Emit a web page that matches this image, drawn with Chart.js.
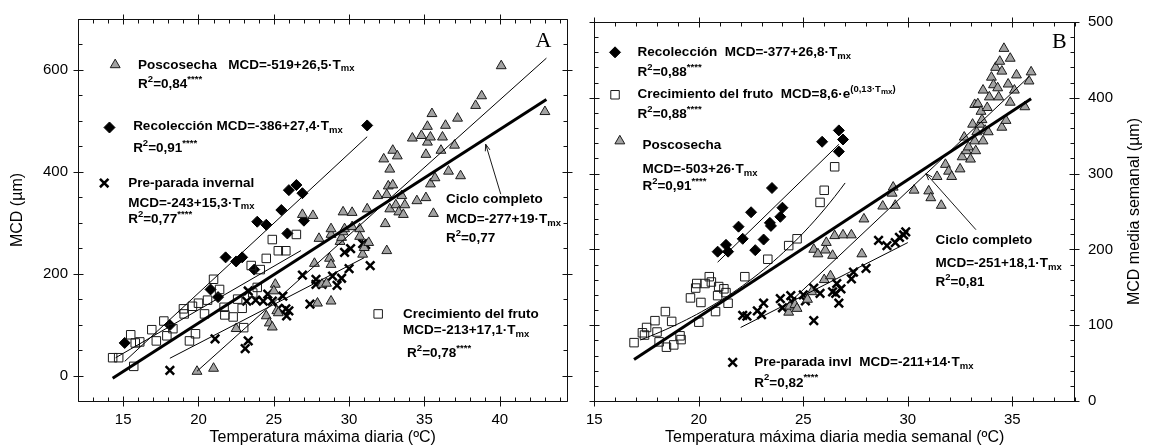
<!DOCTYPE html>
<html>
<head>
<meta charset="utf-8">
<script src="https://cdn.jsdelivr.net/npm/chart.js@4/dist/chart.umd.min.js"></script>
<style>
  body { margin: 0; background: #fff; width: 1156px; height: 447px; position: relative; overflow: hidden; }
  canvas { position: absolute; top: 0; }
  #cA { left: 0; }
  #cB { left: 576px; }
</style>
</head>
<body>
<canvas id="cA" width="576" height="447"></canvas>
<canvas id="cB" width="580" height="447"></canvas>
<script>
const FAM = '"Liberation Sans", Arial, Helvetica, sans-serif';
Chart.defaults.font.family = FAM;
Chart.defaults.color = '#000';

// ---------- panel A: temperatura máxima diaria ----------
const xTicksA = [15, 20, 25, 30, 35, 40];
const yTicksA = [0, 200, 400, 600];

const poscosechaA = [
  [19.9,8],[21.0,14],[22.5,92],[24.5,117],[24.7,103],[24.9,95],[25.2,127],[25.1,179],[25.0,166],[25.3,123],
  [26.9,316],[27.6,314],[27.7,220],[27.9,142],[28.0,269],[28.2,179],[28.5,181],[28.7,230],[28.8,218],[28.8,146],
  [28.8,277],[28.8,288],[29.4,263],[29.5,271],[29.6,282],[29.6,321],[29.7,288],[30.2,292],[30.2,320],[30.7,288],
  [30.7,273],[30.9,238],[31.0,251],[31.3,261],[31.2,327],[31.9,353],[32.3,425],[32.4,298],[32.5,245],[32.5,355],
  [32.6,372],[32.7,327],[32.7,405],[32.9,374],[32.9,442],[33.1,335],[33.2,431],[33.3,321],[33.5,353],[33.6,316],
  [33.7,335],[34.2,466],[34.5,343],[34.8,471],[35.1,434],[35.1,349],[35.2,458],[35.2,489],[35.4,468],[35.4,376],
  [35.5,514],[35.6,318],[35.7,388],[36.1,442],[36.2,468],[36.4,491],[36.6,401],[37.0,452],[37.2,505],[37.4,392],
  [38.4,530],[38.8,549],[40.1,608],[43.0,518]
];
const recoleccionA = [
  [15.1,64],[18.1,99],[20.8,169],[21.3,154],[21.8,232],[22.5,224],[22.9,232],[23.7,208],[23.9,302],[24.5,296],
  [25.5,325],[25.9,279],[26.0,364],[26.5,374],[26.9,358],[27.0,304],[31.2,491]
];
const crecimientoA = [
  [14.3,35],[14.7,35],[15.5,80],[15.7,18],[15.8,64],[16.1,66],[16.9,90],[17.2,68],[17.7,107],[17.9,78],
  [18.3,92],[19.0,131],[19.05,121],[19.4,68],[19.6,136],[19.8,82],[20.0,142],[20.4,121],[20.6,148],[21.0,189],
  [21.4,169],[21.7,134],[21.75,119],[22.3,115],[22.6,150],[22.9,132],[23.0,94],[23.5,216],[23.6,162],[23.9,173],
  [24.1,208],[24.5,230],[24.9,267],[25.3,245],[25.8,245],[26.5,277]
];
const preParadaA = [
  [18.1,10],[21.1,72],[23.1,53],[23.3,68],[23.2,146],[23.3,166],[23.8,148],[24.3,146],[24.6,160],[24.9,146],
  [25.3,132],[25.6,156],[25.8,131],[25.85,117],[26.0,127],[26.9,197],[27.4,140],[27.8,189],[27.8,179],[28.2,179],
  [28.9,195],[29.2,177],[29.5,191],[29.7,242],[30.0,210],[30.1,249],[30.9,259],[31.1,257],[31.4,216]
];

// rectas MCD = a + b·Tmx : poscosecha, recolección, pre-parada, crecimiento, ciclo completo
const fitA_int   = [-519, -386, -243, -213, -277];
const fitA_slope = [26.5, 27.4, 15.3, 17.1, 19];
const fitA_from  = [19.9, 15.1, 18.1, 14.5, 14.3];
const fitA_to    = [43.1, 31.2, 31.0, 26.8, 43.1];

// ---------- panel B: media semanal ----------
const xTicksB = [15, 20, 25, 30, 35];
const yTicksB = [0, 100, 200, 300, 400, 500];

const poscosechaB = [
  [24.3,117],[24.35,125],[24.6,127],[24.7,122],[25.2,134],[25.4,144],[25.5,200],[25.7,194],[26.0,160],[26.05,199],
  [26.1,209],[26.3,165],[26.4,192],[26.5,218],[26.9,219],[27.3,219],[27.8,194],[27.9,240],[28.8,257],[29.25,274],
  [29.3,282],[29.4,258],[30.3,278],[31.0,277],[31.1,268],[31.4,296],[31.6,258],[31.8,312],[31.95,303],[32.1,296],
  [32.5,306],[32.6,322],[32.7,348],[32.8,330],[32.9,335],[33.0,319],[33.1,365],[33.2,343],[33.2,391],[33.25,330],
  [33.3,355],[33.35,392],[33.45,365],[33.5,382],[33.55,371],[33.6,343],[33.6,410],[33.7,357],[33.8,387],[33.85,355],
  [33.9,401],[34.0,427],[34.1,417],[34.2,440],[34.3,413],[34.35,401],[34.4,448],[34.5,435],[34.5,361],[34.6,465],
  [34.7,370],[34.8,418],[34.9,452],[34.9,394],[35.1,410],[35.2,430],[35.6,388],[35.8,422],[35.9,434]
];
const recoleccionB = [
  [20.9,197],[21.3,206],[21.4,197],[21.9,230],[22.1,214],[22.5,249],[22.7,199],[23.1,213],[23.4,235],[23.45,231],
  [23.5,281],[23.9,243],[24.0,255],[25.9,342],[26.7,329],[26.7,357],[26.9,345]
];
const crecimientoB = [
  [16.9,77],[17.3,90],[17.4,87],[17.5,97],[17.9,106],[18.0,91],[18.1,78],[18.4,118],[18.45,71],[18.7,105],
  [18.8,74],[19.1,86],[19.15,81],[19.6,136],[19.85,149],[19.9,155],[20.0,104],[20.1,130],[20.3,155],[20.5,164],
  [20.6,157],[20.8,118],[20.9,139],[20.95,151],[21.2,148],[21.3,143],[21.4,129],[22.2,164],[23.3,187],[24.3,205],
  [24.7,214],[25.8,262],[26.0,278],[26.5,309]
];
const preParadaB = [
  [22.1,113],[22.3,112],[22.8,119],[23.0,114],[23.1,129],[23.9,135],[24.0,123],[24.4,139],[24.45,131],[25.0,140],
  [25.1,132],[25.5,149],[25.5,106],[25.8,142],[26.4,144],[26.55,142],[26.6,155],[26.7,129],[26.8,148],[27.3,161],
  [27.4,170],[28.0,175],[28.6,212],[29.0,205],[29.4,209],[29.6,216],[29.8,219],[29.9,223]
];

// rectas: recolección, poscosecha, pre-parada, ciclo completo
const fitB_int   = [-377, -503, -211, -251];
const fitB_slope = [26.8, 26, 14, 18.1];
const fitB_from  = [20.9, 24.4, 22.0, 16.9];
const fitB_to    = [26.7, 35.8, 30.0, 35.9];
// crecimiento del fruto: MCD = k·e^(r·Tmx), tramo from..to
const expB = [8.6, 0.13, 17.2, 27.0];

// ---------- estilos de marcador ----------
const triStyle   = { pointStyle: 'triangle', pointRadius: 5.7, backgroundColor: '#a2a2a2', borderColor: '#1a1a1a', borderWidth: 1 };
const diaStyle   = { pointStyle: 'rectRot',  pointRadius: 5.5, backgroundColor: '#000', borderColor: '#000', borderWidth: 1 };
const sqStyle    = { pointStyle: 'rect',     pointRadius: 6,   backgroundColor: 'rgba(0,0,0,0)', borderColor: '#1a1a1a', borderWidth: 1 };
const crossStyle = { pointStyle: 'crossRot', pointRadius: 6,   backgroundColor: '#000', borderColor: '#000', borderWidth: 2.5 };

function pointSet(pts, style) {
  return Object.assign({ data: pts.map(([x, y]) => ({ x, y })), order: 2 }, style);
}
function lineSet(pts, width) {
  return { data: pts, showLine: true, pointRadius: 0, borderColor: '#000', borderWidth: width, order: 1 };
}
function straight(a, b, from, to) {
  return [{ x: from, y: a + b * from }, { x: to, y: a + b * to }];
}
function expo(k, r, from, to) {
  const pts = [];
  for (let i = 0; i <= 40; i++) {
    const t = from + (to - from) * i / 40;
    pts.push({ x: t, y: k * Math.exp(r * t) });
  }
  return pts;
}

// rich text: [text, 'n' | 'sub' | 'sup' | 'supsub']
function drawParts(ctx, x, y, parts) {
  let cx = x;
  for (const [t, k] of parts) {
    const size = k === 'n' ? 13.5 : k === 'supsub' ? 8 : 9.5;
    const dy = k === 'sub' ? 4 : k === 'sup' ? -5 : k === 'supsub' ? -3 : 0;
    ctx.font = 'bold ' + size + 'px ' + FAM;
    ctx.fillText(t, cx, y + dy);
    cx += ctx.measureText(t).width;
  }
}

function makeDecor(d) {
  return {
    id: 'decor',
    afterDraw(chart) {
      const { ctx, chartArea: a } = chart;
      const xs = chart.scales.x, ys = chart.scales.y;
      const px = v => xs.getPixelForValue(v), py = v => ys.getPixelForValue(v);
      const L = Math.round(a.left) + .5, R = Math.round(a.right) - .5;
      const T = Math.round(a.top) + .5, B = Math.round(a.bottom) + .5;
      ctx.save();
      ctx.strokeStyle = '#111';
      ctx.lineWidth = 1;
      ctx.beginPath();
      ctx.rect(L, T, R - L, B - T);
      // ticks on all four sides: majors cross the frame, minors point inward
      for (let i = Math.ceil(xs.min / d.xMinor); i * d.xMinor <= xs.max; i++) {
        const v = i * d.xMinor, x = Math.round(px(v)) + .5;
        const major = d.xTicks.includes(v);
        const out = major ? 5 : 0, inn = major ? 5 : 4;
        ctx.moveTo(x, B + out); ctx.lineTo(x, B - inn);
        ctx.moveTo(x, T - out); ctx.lineTo(x, T + inn);
      }
      for (let i = Math.ceil(ys.min / d.yMinor); i * d.yMinor <= ys.max; i++) {
        const v = i * d.yMinor, y = Math.round(py(v)) + .5;
        const major = d.yTicks.includes(v);
        const out = major ? 5 : 0, inn = major ? 5 : 4;
        ctx.moveTo(L - out, y); ctx.lineTo(L + inn, y);
        ctx.moveTo(R + out, y); ctx.lineTo(R - inn, y);
      }
      ctx.stroke();

      // legend symbols
      for (const s of d.symbols) {
        ctx.fillStyle = s.style.backgroundColor;
        ctx.strokeStyle = s.style.borderColor;
        ctx.lineWidth = s.style.borderWidth;
        Chart.helpers.drawPoint(ctx, { pointStyle: s.style.pointStyle, radius: s.style.pointRadius, borderWidth: s.style.borderWidth, rotation: 0 }, px(s.x), py(s.y));
      }

      // equations
      ctx.fillStyle = '#000';
      ctx.textBaseline = 'middle';
      ctx.textAlign = 'left';
      for (const n of d.notes) drawParts(ctx, px(n.x), py(n.y), n.parts);

      // arrow from the "Ciclo completo" label to its line
      const [x1, y1, x2, y2] = d.arrow.map((v, i) => i % 2 ? py(v) : px(v));
      const ang = Math.atan2(y2 - y1, x2 - x1);
      ctx.strokeStyle = '#000';
      ctx.lineWidth = 0.9;
      ctx.beginPath();
      ctx.moveTo(x1, y1); ctx.lineTo(x2, y2);
      ctx.moveTo(x2 - 7 * Math.cos(ang - 0.35), y2 - 7 * Math.sin(ang - 0.35));
      ctx.lineTo(x2, y2);
      ctx.lineTo(x2 - 7 * Math.cos(ang + 0.35), y2 - 7 * Math.sin(ang + 0.35));
      ctx.stroke();

      // panel letter
      ctx.font = '22px "Liberation Serif", "Times New Roman", serif';
      ctx.textAlign = 'center';
      ctx.fillText(d.letter[0], px(d.letter[1]), py(d.letter[2]));

      if (d.rightTitle) {
        ctx.translate(ys.right - 21, (a.top + a.bottom) / 2);
        ctx.rotate(-Math.PI / 2);
        ctx.font = '16px ' + FAM;
        ctx.fillText(d.rightTitle, 0, 0);
      }
      ctx.restore();
    }
  };
}

const R2 = (v, stars) => [['R', 'n'], ['2', 'sup'], ['=' + v, 'n']].concat(stars ? [['****', 'sup']] : []);
const mx = txt => [[txt, 'n'], ['mx', 'sub']];

const notesA = [
  { x: 15.99, y: 610, parts: mx('Poscosecha   MCD=-519+26,5·T') },
  { x: 15.99, y: 571, parts: R2('0,84', true) },
  { x: 15.66, y: 490, parts: mx('Recolección MCD=-386+27,4·T') },
  { x: 15.66, y: 446, parts: R2('0,91', true) },
  { x: 15.33, y: 378, parts: [['Pre-parada invernal', 'n']] },
  { x: 15.33, y: 339, parts: mx('MCD=-243+15,3·T') },
  { x: 15.33, y: 306, parts: R2('0,77', true) },
  { x: 36.43, y: 347, parts: [['Ciclo completo', 'n']] },
  { x: 36.43, y: 306, parts: mx('MCD=-277+19·T') },
  { x: 36.43, y: 269, parts: R2('0,77', false) },
  { x: 33.58, y: 121, parts: [['Crecimiento del fruto', 'n']] },
  { x: 33.58, y: 88,  parts: mx('MCD=-213+17,1·T') },
  { x: 33.85, y: 43,  parts: R2('0,78', true) }
];
const symbolsA = [
  { x: 14.47, y: 610, style: triStyle },
  { x: 14.09, y: 487, style: diaStyle },
  { x: 13.74, y: 378, style: crossStyle },
  { x: 31.93, y: 121, style: sqStyle }
];

const notesB = [
  { x: 17.07, y: 460, parts: mx('Recolección  MCD=-377+26,8·T') },
  { x: 17.07, y: 434, parts: R2('0,88', true) },
  { x: 17.07, y: 404, parts: [['Crecimiento del fruto  MCD=8,6·e', 'n'], ['(0,13·T', 'sup'], ['mx', 'supsub'], [')', 'sup']] },
  { x: 17.07, y: 378, parts: R2('0,88', true) },
  { x: 17.3,  y: 337, parts: [['Poscosecha', 'n']] },
  { x: 17.3,  y: 306, parts: mx('MCD=-503+26·T') },
  { x: 17.3,  y: 283, parts: R2('0,91', true) },
  { x: 31.32, y: 212, parts: [['Ciclo completo', 'n']] },
  { x: 31.32, y: 182, parts: mx('MCD=-251+18,1·T') },
  { x: 31.32, y: 157, parts: R2('0,81', false) },
  { x: 22.65, y: 51,  parts: mx('Pre-parada invl  MCD=-211+14·T') },
  { x: 22.65, y: 24,  parts: R2('0,82', true) }
];
const symbolsB = [
  { x: 15.99, y: 460, style: diaStyle },
  { x: 15.99, y: 404, style: sqStyle },
  { x: 16.22, y: 343, style: triStyle },
  { x: 21.62, y: 51,  style: crossStyle }
];

function axisX(min, max, ticks, title) {
  return {
    type: 'linear', min, max,
    grid: { display: false, drawTicks: false }, border: { display: false },
    afterBuildTicks: s => { s.ticks = ticks.map(value => ({ value })); },
    afterFit: s => { s.height = 46; },
    ticks: { padding: 10, font: { size: 15 }, color: '#000', autoSkip: false, maxRotation: 0 },
    title: { display: true, text: title, font: { size: 16 }, color: '#000', padding: { top: 0, bottom: 0 } }
  };
}
function axisY(min, max, ticks, width, position, pad, title) {
  return {
    type: 'linear', min, max, position,
    grid: { display: false, drawTicks: false }, border: { display: false },
    afterBuildTicks: s => { s.ticks = ticks.map(value => ({ value })); },
    afterFit: s => { s.width = width; },
    ticks: { padding: pad, font: { size: 15 }, color: '#000', autoSkip: false },
    title: { display: !!title, text: title || '', font: { size: 16 }, color: '#000', padding: { top: 8, bottom: 0 } }
  };
}

const baseOpts = { responsive: false, animation: false, events: [], plugins: { legend: { display: false }, tooltip: { enabled: false } } };

// panel A
const linesA = fitA_int.map((a, i) => lineSet(straight(a, fitA_slope[i], fitA_from[i], fitA_to[i]), i === 4 ? 3 : 1));
new Chart(document.getElementById('cA'), {
  type: 'scatter',
  data: { datasets: linesA.concat([
    pointSet(poscosechaA, triStyle),
    pointSet(crecimientoA, sqStyle),
    pointSet(preParadaA, crossStyle),
    pointSet(recoleccionA, diaStyle)
  ]) },
  options: Object.assign({}, baseOpts, {
    layout: { padding: { top: 16, right: 7, left: 0, bottom: 0 } },
    scales: {
      x: axisX(12, 44.5, xTicksA, 'Temperatura máxima diaria (ºC)'),
      y: axisY(-50, 700, yTicksA, 78, 'left', 10, 'MCD (µm)')
    }
  }),
  plugins: [makeDecor({
    xTicks: xTicksA, yTicks: yTicksA, xMinor: 1, yMinor: 50,
    notes: notesA, symbols: symbolsA,
    arrow: [40.07, 356, 39.07, 454], letter: ['A', 42.9, 657]
  })]
});

// panel B
const linesB = fitB_int.map((a, i) => lineSet(straight(a, fitB_slope[i], fitB_from[i], fitB_to[i]), i === 3 ? 3 : 1));
linesB.push(lineSet(expo(expB[0], expB[1], expB[2], expB[3]), 1));
new Chart(document.getElementById('cB'), {
  type: 'scatter',
  data: { datasets: linesB.concat([
    pointSet(poscosechaB, triStyle),
    pointSet(crecimientoB, sqStyle),
    pointSet(preParadaB, crossStyle),
    pointSet(recoleccionB, diaStyle)
  ]) },
  options: Object.assign({}, baseOpts, {
    layout: { padding: { top: 16, right: 0, left: 8, bottom: 0 } },
    scales: {
      x: axisX(15, 38, xTicksB, 'Temperatura máxima diaria media semanal (ºC)'),
      y: axisY(0, 500, yTicksB, 81, 'right', 13, null)
    }
  }),
  plugins: [makeDecor({
    xTicks: xTicksB, yTicks: yTicksB, xMinor: 1, yMinor: 20,
    notes: notesB, symbols: symbolsB,
    arrow: [33.26, 226, 30.87, 300], letter: ['B', 37.25, 473],
    rightTitle: 'MCD media semanal (µm)'
  })]
});
</script>
</body>
</html>
